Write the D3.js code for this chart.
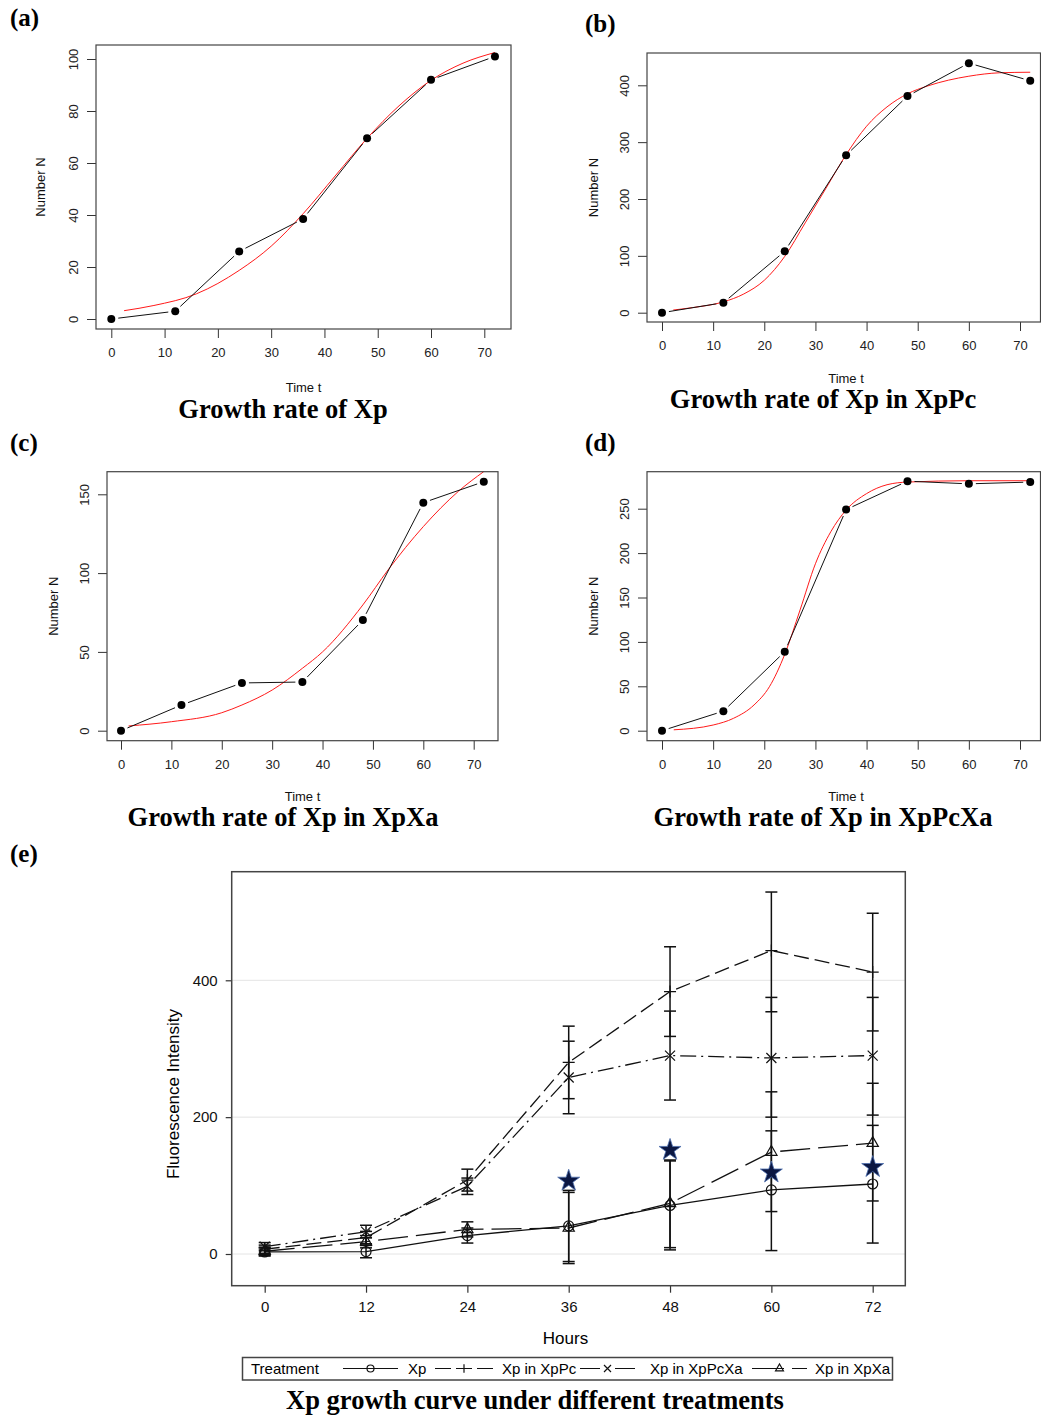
<!DOCTYPE html>
<html>
<head>
<meta charset="utf-8">
<script src="https://cdn.jsdelivr.net/npm/d3@7"></script>
<style>
  body { margin: 0; background: #fff; }
  svg { display: block; }
</style>
</head>
<body>
<div id="chart"></div>
<script>
// sampling times (hours)
const hours = [0, 12, 24, 36, 48, 60, 72];

const obsA = [0, 3, 26, 38.5, 69.5, 92, 101];
const fitTA = [2.4, 8, 16, 24, 30, 36, 42, 48, 54, 60, 66, 72];
const fitNA = [3.2, 5.2, 9.7, 18.7, 28, 40.5, 55, 69.5, 82, 91.8, 98.4, 102.5];

// (b) Xp in XpPc
const obsB = [0, 17.6, 108, 277, 381, 439, 408];
const fitTB = [2.2, 6, 12, 16, 20, 24, 28, 32, 36, 40, 44, 48, 52, 56, 60, 66, 72];
const fitNB = [4.7, 9, 19, 33, 57, 99, 158, 218, 278, 328, 362, 385, 399, 409, 416, 422, 423];

// (c) Xp in XpXa
const obsC = [0, 16.3, 30.3, 30.9, 70.2, 144.7, 158];
const fitTC = [1.5, 10, 20, 24, 30, 36, 40, 48, 53, 60, 67, 72];
const fitNC = [3, 5.7, 11.4, 16.3, 25.8, 39.6, 50, 79.8, 102, 129.5, 152, 164.4];

// (d) Xp in XpPcXa
const obsD = [0, 22, 89, 249, 281, 278, 280];
const fitTD = [2.3, 10, 14, 18, 21, 24, 27, 30, 33, 36, 40, 44, 48, 60, 72];
const fitND = [1, 6.4, 14, 29, 49.5, 86, 136, 188, 224, 248.5, 267, 277, 280, 281.5, 281.5];

// (e) fluorescence means and error bar ends per treatment
const xpMean = [3, 3.5, 27, 41, 71, 93.6, 102.3];
const xpLo   = [-3, -5.5, 16, -11, 6, 5, 16];
const xpHi   = [9, 12.5, 38, 93, 136, 180, 188];

const xpPcMean = [7, 24, 108, 280, 383.5, 443.5, 412];
const xpPcLo   = [1, 15, 92, 227, 318, 354, 326];
const xpPcHi   = [13, 33, 124, 333, 449, 529, 498];

const xpPcXaMean = [10.7, 32.6, 99, 258, 290, 286.5, 290];
const xpPcXaLo   = [4.7, 23.6, 87, 205, 225, 200, 203];
const xpPcXaHi   = [16.7, 42, 111, 311, 355, 375, 375];

const xpXaMean = [4, 18, 36, 38, 74, 149, 162];
const xpXaLo   = [-2, 9, 25, -14, 9.3, 62, 77.5];
const xpXaHi   = [10, 27, 47, 90, 137.4, 237, 249.5];

const starHours = [36, 48, 60, 72];
const starValues = [107, 152, 119, 127];

const treatments = ["Xp", "Xp in XpPc", "Xp in XpPcXa", "Xp in XpXa"];

const width = 1041;
const height = 1418;
const sans = "'Liberation Sans', Arial, Helvetica, sans-serif";
const serif = "'Liberation Serif', 'Times New Roman', serif";

const svg = d3.select("#chart")
              .append("svg")
              .attr("width", width)
              .attr("height", height)

svg.append("rect").attr("width", width).attr("height", height).attr("fill", "#fff")

const panels = [
  {tag: "(a)", tagX: 10, tagY: 26, title: "Growth rate of Xp", titleX: 283, titleY: 418,
   left: 96, right: 511, top: 45, bottom: 329, x0: 111.3, x70: 484.3, y0: 319, yRef: 100, yRefPx: 59,
   yTicks: [0, 20, 40, 60, 80, 100], timeX: 303.5, timeY: 392, numX: 45,
   obs: obsA, fitT: fitTA, fitN: fitNA},
  {tag: "(b)", tagX: 585, tagY: 32, title: "Growth rate of Xp in XpPc", titleX: 823, titleY: 408,
   left: 647, right: 1040.5, top: 53, bottom: 322, x0: 662, x70: 1020, y0: 312.7, yRef: 400, yRefPx: 85.3,
   yTicks: [0, 100, 200, 300, 400], timeX: 846, timeY: 383, numX: 598,
   obs: obsB, fitT: fitTB, fitN: fitNB},
  {tag: "(c)", tagX: 10, tagY: 451, title: "Growth rate of Xp in XpXa", titleX: 283, titleY: 826,
   left: 107, right: 498, top: 471.7, bottom: 740.7, x0: 121, x70: 473.7, y0: 730.7, yRef: 150, yRefPx: 494.3,
   yTicks: [0, 50, 100, 150], timeX: 302.5, timeY: 801, numX: 58,
   obs: obsC, fitT: fitTC, fitN: fitNC},
  {tag: "(d)", tagX: 585, tagY: 451, title: "Growth rate of Xp in XpPcXa", titleX: 823, titleY: 826,
   left: 647, right: 1040.5, top: 471.7, bottom: 740.7, x0: 662, x70: 1020, y0: 730.7, yRef: 250, yRefPx: 508.7,
   yTicks: [0, 50, 100, 150, 200, 250], timeX: 846, timeY: 801, numX: 598,
   obs: obsD, fitT: fitTD, fitN: fitND}
]

panels.forEach(drawPanel)
drawMain()

function drawPanel(p) {
  const g = svg.append("g")
  const x = d3.scaleLinear().domain([0, 70]).range([p.x0, p.x70])
  const y = d3.scaleLinear().domain([0, p.yRef]).range([p.y0, p.yRefPx])

  // x axis
  const xAxis = g.append("g")
                 .attr("transform", `translate(0,${p.bottom})`)
                 .call(d3.axisBottom(x).tickValues(d3.range(0, 71, 10)).tickSize(9).tickPadding(10))
  xAxis.select(".domain").remove()

  // y axis, labels turned like R's las = 0
  const yAxis = g.append("g")
                 .attr("transform", `translate(${p.left},0)`)
                 .call(d3.axisLeft(y).tickValues(p.yTicks).tickSize(9))
  yAxis.select(".domain").remove()
  yAxis.selectAll("text")
       .attr("x", null)
       .attr("y", -23)
       .attr("dy", "0.35em")
       .attr("text-anchor", "middle")
       .attr("transform", "rotate(-90)")

  g.selectAll(".tick line").attr("stroke", "#333")
  g.selectAll(".tick text").attr("font-family", sans).attr("font-size", 13).attr("fill", "#222")

  // fitted curve
  g.append("path")
   .datum(p.fitT.map((t, i) => [t, p.fitN[i]]))
   .attr("fill", "none")
   .attr("stroke", "#ff1a1a")
   .attr("stroke-width", 1)
   .attr("d", d3.line().x(d => x(d[0])).y(d => y(d[1])).curve(d3.curveMonotoneX))

  // type = "b": segments with gaps around the points
  const pts = hours.map((t, i) => [x(t), y(p.obs[i])])
  const gap = 7
  for (let i = 0; i < pts.length - 1; i++) {
    const [ax, ay] = pts[i]
    const [bx, by] = pts[i + 1]
    const len = Math.hypot(bx - ax, by - ay)
    if (len <= gap * 2) continue
    const ux = (bx - ax) / len, uy = (by - ay) / len
    g.append("line")
     .attr("x1", ax + ux * gap).attr("y1", ay + uy * gap)
     .attr("x2", bx - ux * gap).attr("y2", by - uy * gap)
     .attr("stroke", "#111")
     .attr("stroke-width", 1)
  }

  g.selectAll("circle.pt")
   .data(p.obs)
   .enter()
   .append("circle")
   .attr("class", "pt")
   .attr("cx", (d, i) => x(hours[i]))
   .attr("cy", d => y(d))
   .attr("r", 4)
   .attr("fill", "#000")

  g.append("rect")
   .attr("x", p.left).attr("y", p.top)
   .attr("width", p.right - p.left).attr("height", p.bottom - p.top)
   .attr("fill", "none").attr("stroke", "#444").attr("stroke-width", 1.2)

  g.append("text")
   .attr("x", p.timeX).attr("y", p.timeY)
   .attr("text-anchor", "middle")
   .attr("font-family", sans).attr("font-size", 13).attr("fill", "#111")
   .text("Time t")

  g.append("text")
   .attr("transform", `translate(${p.numX},${(p.top + p.bottom) / 2}) rotate(-90)`)
   .attr("text-anchor", "middle")
   .attr("font-family", sans).attr("font-size", 13).attr("fill", "#111")
   .text("Number N")

  g.append("text")
   .attr("x", p.titleX).attr("y", p.titleY)
   .attr("text-anchor", "middle")
   .attr("font-family", serif).attr("font-weight", "bold").attr("font-size", 26.5)
   .text(p.title)

  svg.append("text")
     .attr("x", p.tagX).attr("y", p.tagY)
     .attr("font-family", serif).attr("font-weight", "bold").attr("font-size", 25)
     .text(p.tag)
}

function drawMain() {
  const g = svg.append("g")
  const box = {left: 231.7, right: 905.3, top: 871.7, bottom: 1285.7}
  const x = d3.scaleLinear().domain([0, 72]).range([264.7, 872.7])
  const y = d3.scaleLinear().domain([0, 400]).range([1254, 980.3])

  const series = [
    {name: treatments[0], mean: xpMean, lo: xpLo, hi: xpHi, dash: null, mark: "circle"},
    {name: treatments[1], mean: xpPcMean, lo: xpPcLo, hi: xpPcHi, dash: "15,6", mark: "plus"},
    {name: treatments[2], mean: xpPcXaMean, lo: xpPcXaLo, hi: xpPcXaHi, dash: "16,5,2,5", mark: "cross"},
    {name: treatments[3], mean: xpXaMean, lo: xpXaLo, hi: xpXaHi, dash: "30,8", mark: "triangle"}
  ]

  // grid
  g.selectAll("line.grid")
   .data([0, 200, 400])
   .enter()
   .append("line")
   .attr("x1", box.left).attr("x2", box.right)
   .attr("y1", d => y(d)).attr("y2", d => y(d))
   .attr("stroke", "#e4e4e4").attr("stroke-width", 1)

  // axes
  const xAxis = g.append("g")
                 .attr("transform", `translate(0,${box.bottom})`)
                 .call(d3.axisBottom(x).tickValues(hours).tickSize(7).tickPadding(9))
  xAxis.select(".domain").remove()
  const yAxis = g.append("g")
                 .attr("transform", `translate(${box.left},0)`)
                 .call(d3.axisLeft(y).tickValues([0, 200, 400]).tickSize(6).tickPadding(8))
  yAxis.select(".domain").remove()
  g.selectAll(".tick line").attr("stroke", "#333").attr("stroke-width", 1.2)
  g.selectAll(".tick text").attr("font-family", sans).attr("font-size", 15).attr("fill", "#111")

  // error bars
  series.forEach(s => {
    const eb = g.append("g")
    hours.forEach((t, i) => {
      const cx = x(t)
      eb.append("line")
        .attr("x1", cx).attr("x2", cx)
        .attr("y1", y(s.lo[i])).attr("y2", y(s.hi[i]))
        .attr("stroke", "#111").attr("stroke-width", 1.5)
      ;[s.lo[i], s.hi[i]].forEach(v => {
        eb.append("line")
          .attr("x1", cx - 6).attr("x2", cx + 6)
          .attr("y1", y(v)).attr("y2", y(v))
          .attr("stroke", "#111").attr("stroke-width", 1.5)
      })
    })
  })

  // lines and markers
  const line = d3.line().x((d, i) => x(hours[i])).y(d => y(d))
  series.forEach(s => {
    g.append("path")
     .datum(s.mean)
     .attr("fill", "none")
     .attr("stroke", "#111")
     .attr("stroke-width", 1.3)
     .attr("stroke-dasharray", s.dash)
     .attr("d", line)
    s.mean.forEach((v, i) => drawMark(g, s.mark, x(hours[i]), y(v), 1))
  })

  // significance stars
  g.selectAll("path.star")
   .data(starValues)
   .enter()
   .append("path")
   .attr("class", "star")
   .attr("d", d3.symbol(d3.symbolStar).size(150))
   .attr("transform", (d, i) => `translate(${x(starHours[i])},${y(d)})`)
   .attr("fill", "#0b1742")
   .attr("stroke", "#4d6fae")
   .attr("stroke-width", 0.8)

  g.append("rect")
   .attr("x", box.left).attr("y", box.top)
   .attr("width", box.right - box.left).attr("height", box.bottom - box.top)
   .attr("fill", "none").attr("stroke", "#444").attr("stroke-width", 1.5)

  g.append("text")
   .attr("x", (box.left + box.right) / 2 - 3).attr("y", 1344)
   .attr("text-anchor", "middle")
   .attr("font-family", sans).attr("font-size", 17)
   .text("Hours")

  g.append("text")
   .attr("transform", "translate(179,1094) rotate(-90)")
   .attr("text-anchor", "middle")
   .attr("font-family", sans).attr("font-size", 17)
   .text("Fluorescence Intensity")

  // legend
  const lg = g.append("g")
  lg.append("rect")
    .attr("x", 242.5).attr("y", 1357.5).attr("width", 650).attr("height", 22.5)
    .attr("fill", "#fff").attr("stroke", "#444").attr("stroke-width", 1.5)
  lg.append("text")
    .attr("x", 251).attr("y", 1374)
    .attr("font-family", sans).attr("font-size", 15)
    .text("Treatment")

  const swatches = [
    {x1: 343, x2: 398, label: 408, dash: null},
    {x1: 435, x2: 493, label: 502, dash: "16,5"},
    {x1: 580, x2: 635, label: 650, dash: "20,15"},
    {x1: 752, x2: 807, label: 815, dash: "32,8"}
  ]
  series.forEach((s, i) => {
    const sw = swatches[i]
    lg.append("line")
      .attr("x1", sw.x1).attr("x2", sw.x2).attr("y1", 1368.5).attr("y2", 1368.5)
      .attr("stroke", "#111").attr("stroke-width", 1.2)
      .attr("stroke-dasharray", sw.dash)
    drawMark(lg, s.mark, (sw.x1 + sw.x2) / 2, 1368.5, 0.7)
    lg.append("text")
      .attr("x", sw.label).attr("y", 1374)
      .attr("font-family", sans).attr("font-size", 15)
      .text(s.name)
  })

  svg.append("text")
     .attr("x", 535).attr("y", 1409)
     .attr("text-anchor", "middle")
     .attr("font-family", serif).attr("font-weight", "bold").attr("font-size", 26.5)
     .text("Xp growth curve under different treatments")

  svg.append("text")
     .attr("x", 10).attr("y", 862)
     .attr("font-family", serif).attr("font-weight", "bold").attr("font-size", 25)
     .text("(e)")
}

function drawMark(g, kind, cx, cy, k) {
  const st = {stroke: "#111", width: 1.2}
  if (kind === "circle") {
    g.append("circle").attr("cx", cx).attr("cy", cy).attr("r", 5 * k)
     .attr("fill", "none").attr("stroke", st.stroke).attr("stroke-width", st.width)
  } else if (kind === "plus") {
    const h = 6 * k
    g.append("path").attr("d", `M${cx - h},${cy}H${cx + h}M${cx},${cy - h}V${cy + h}`)
     .attr("stroke", st.stroke).attr("stroke-width", st.width)
  } else if (kind === "cross") {
    const h = 5 * k
    g.append("path").attr("d", `M${cx - h},${cy - h}L${cx + h},${cy + h}M${cx - h},${cy + h}L${cx + h},${cy - h}`)
     .attr("stroke", st.stroke).attr("stroke-width", st.width)
  } else {
    g.append("path")
     .attr("d", d3.symbol(d3.symbolTriangle).size(55 * k * k))
     .attr("transform", `translate(${cx},${cy})`)
     .attr("fill", "none").attr("stroke", st.stroke).attr("stroke-width", st.width)
  }
}
</script>
</body>
</html>
